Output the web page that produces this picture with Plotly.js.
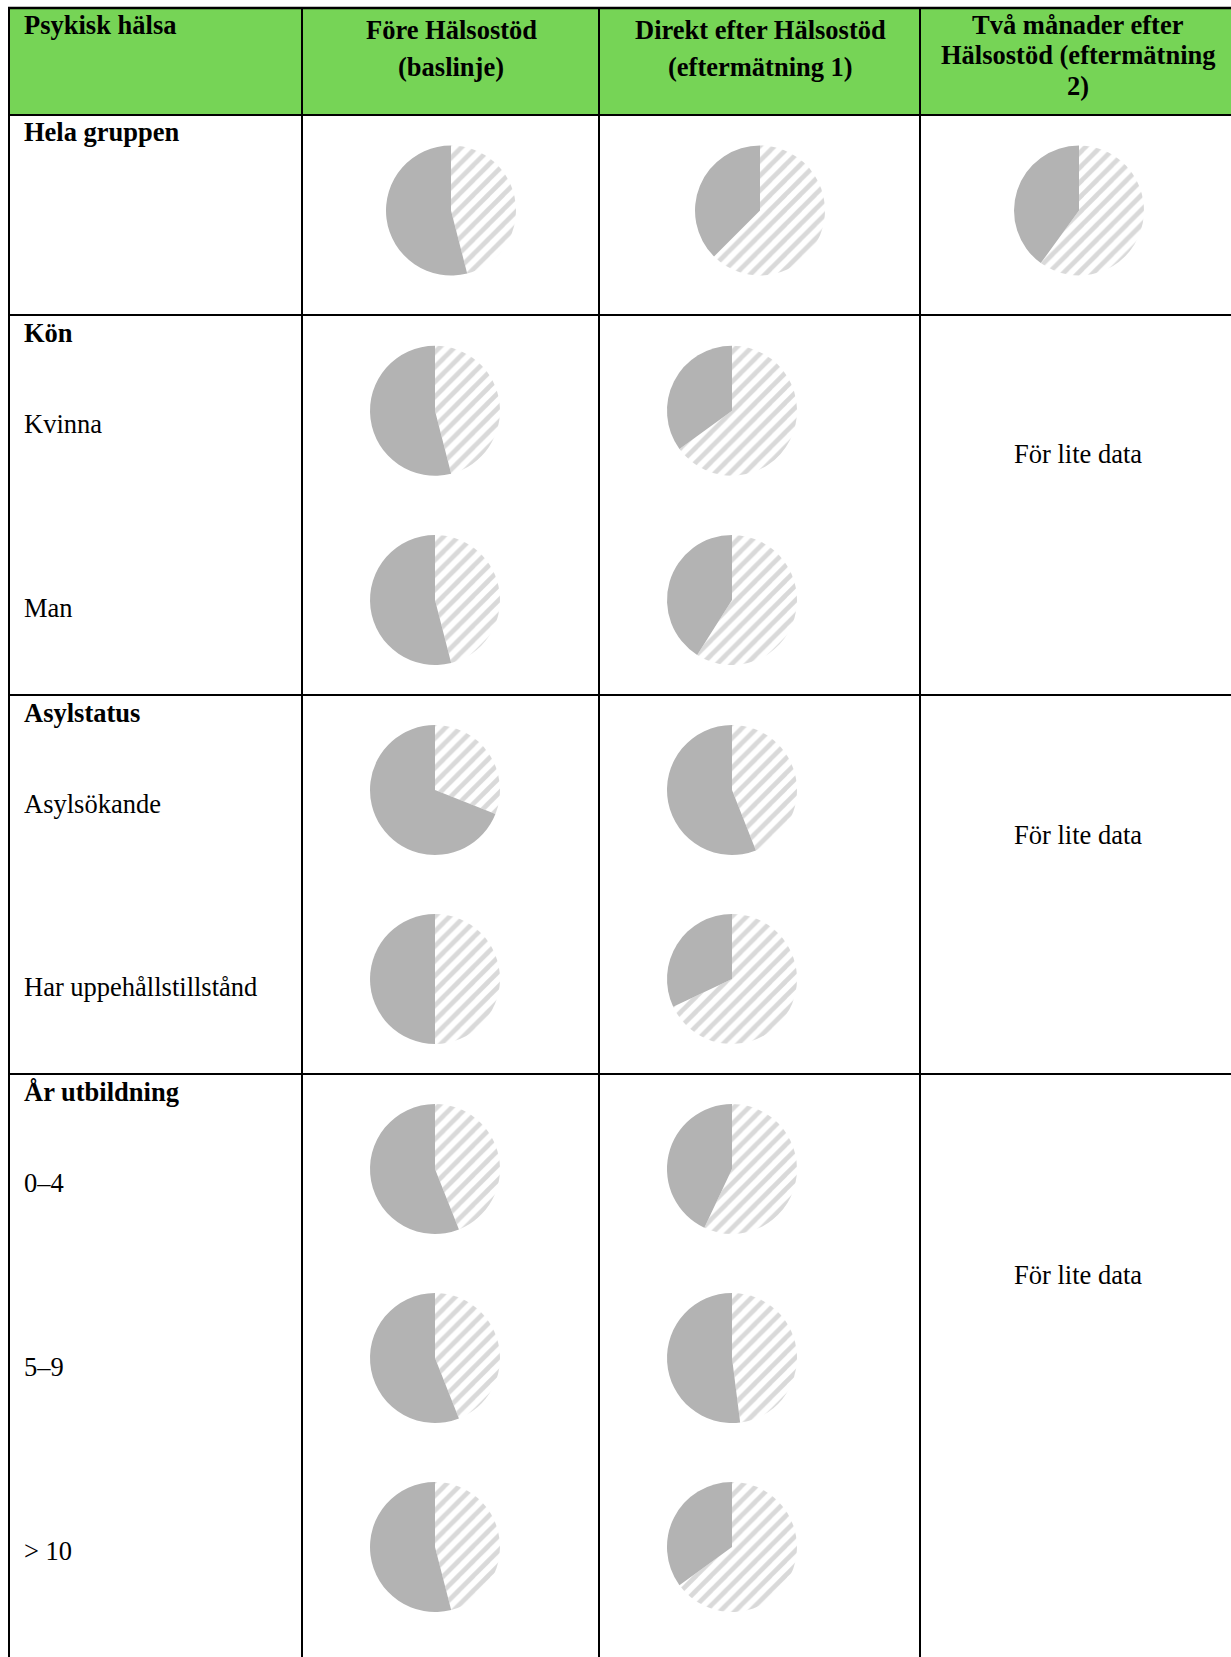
<!DOCTYPE html>
<html>
<head>
<meta charset="utf-8">
<script src="https://cdn.plot.ly/plotly-3.0.1.min.js"></script>
<style>
  html, body { margin: 0; padding: 0; background: #ffffff; }
  #chart { width: 1231px; height: 1657px; }
</style>
</head>
<body>
<div id="chart"></div>
<script>
// ---------- DATA ----------
const cornerHeader = 'Psykisk hälsa';
const header1Lines = ['Före Hälsostöd', '(baslinje)'];
const header2Lines = ['Direkt efter Hälsostöd', '(eftermätning 1)'];
const header3Lines = ['Två månader efter', 'Hälsostöd (eftermätning', '2)'];

const groupLabels = ['Hela gruppen', 'Kön', 'Asylstatus', 'År utbildning'];
const subLabels = ['Kvinna', 'Man', 'Asylsökande', 'Har uppehållstillstånd', '0–4', '5–9', '> 10'];

// pie categories (one pie per row, per measurement)
const pieRows = ['Hela gruppen', 'Kvinna', 'Man', 'Asylsökande', 'Har uppehållstillstånd', '0–4', '5–9', '> 10'];
const sliceLabels = ['Randig andel', 'Grå andel'];

// percentages (striped slice, grey slice)
const baselineStriped = [46, 46, 46, 31, 50, 44, 44, 46];
const baselineSolid   = [54, 54, 54, 69, 50, 56, 56, 54];
const efter1Striped   = [62.5, 65, 59, 44, 68, 57, 48, 65];
const efter1Solid     = [37.5, 35, 41, 56, 32, 43, 52, 35];
const efter2Striped   = [60];
const efter2Solid     = [40];

const noDataText = 'För lite data';

// ---------- LAYOUT GEOMETRY ----------
const W = 1231, H = 1657;
const FONT = 'Liberation Serif, Times New Roman, serif';
const FS = 26.5;
const GREEN = '#76d456';
const R = 65;

const tableLeft = 9, tableTop = 8, tableRight = 1245;
const colBounds = [302, 599, 920];
const rowBounds = [115, 315, 695, 1074];

// pie centre positions (pixels) for the rows of pieRows
const pieY = [210.5, 410.7, 600, 790, 979, 1169, 1358, 1547];
const pieXFirstRow = [451, 760, 1079];
const pieXOther = [435, 732];

function domainFor(cx, cy) {
  return {
    x: [(cx - R) / W, (cx + R) / W],
    y: [1 - (cy + R) / H, 1 - (cy - R) / H]
  };
}

function pieTrace(striped, solid, cx, cy) {
  return {
    type: 'pie',
    labels: sliceLabels,
    values: [striped, solid],
    sort: false,
    direction: 'clockwise',
    rotation: 0,
    textinfo: 'none',
    hoverinfo: 'skip',
    showlegend: false,
    domain: domainFor(cx, cy),
    marker: {
      colors: ['#ffffff', '#b3b3b3'],
      line: { width: 0 },
      pattern: {
        shape: ['/', ''],
        fgcolor: '#d9d9d9',
        size: 10.5,
        solidity: 0.45
      }
    }
  };
}

const traces = [];
pieRows.forEach((name, i) => {
  const cx1 = i === 0 ? pieXFirstRow[0] : pieXOther[0];
  const cx2 = i === 0 ? pieXFirstRow[1] : pieXOther[1];
  traces.push(pieTrace(baselineStriped[i], baselineSolid[i], cx1, pieY[i]));
  traces.push(pieTrace(efter1Striped[i], efter1Solid[i], cx2, pieY[i]));
});
efter2Striped.forEach((v, i) => {
  traces.push(pieTrace(v, efter2Solid[i], pieXFirstRow[2], pieY[i]));
});

// ---------- SHAPES ----------
const shapes = [];
shapes.push({ type: 'rect', xref: 'x', yref: 'y', x0: tableLeft, x1: tableRight, y0: tableTop, y1: rowBounds[0],
  fillcolor: GREEN, line: { width: 0 }, layer: 'below' });
shapes.push({ type: 'line', xref: 'x', yref: 'y', x0: tableLeft - 1, x1: tableRight, y0: tableTop, y1: tableTop,
  line: { color: '#000', width: 2.5 } });
shapes.push({ type: 'line', xref: 'x', yref: 'y', x0: tableLeft, x1: tableLeft, y0: tableTop, y1: H + 5,
  line: { color: '#000', width: 2 } });
colBounds.forEach(x => shapes.push({ type: 'line', xref: 'x', yref: 'y', x0: x, x1: x, y0: tableTop, y1: H + 5,
  line: { color: '#000', width: 2 } }));
rowBounds.forEach(y => shapes.push({ type: 'line', xref: 'x', yref: 'y', x0: tableLeft, x1: tableRight, y0: y, y1: y,
  line: { color: '#000', width: 1.8 } }));

// ---------- ANNOTATIONS ----------
const annotations = [];
function txt(text, x, y, anchor, bold) {
  annotations.push({
    xref: 'x', yref: 'y', x: x, y: y, text: bold ? '<b>' + text + '</b>' : text,
    showarrow: false, xanchor: anchor, yanchor: 'middle',
    font: { family: FONT, size: FS, color: '#000000' }
  });
}
txt(cornerHeader, 22, 24.5, 'left', true);
header1Lines.forEach((t, i) => txt(t, 451, [30, 67][i], 'center', true));
header2Lines.forEach((t, i) => txt(t, 760, [30, 67][i], 'center', true));
header3Lines.forEach((t, i) => txt(t, 1078, [24.5, 55, 86][i], 'center', true));

const groupY = [132, 333, 713, 1092];
groupLabels.forEach((t, i) => txt(t, 22, groupY[i], 'left', true));
const subY = [424, 608, 804, 986.5, 1183, 1367, 1551];
subLabels.forEach((t, i) => txt(t, 22, subY[i], 'left', false));

[454, 835, 1275].forEach(y => txt(noDataText, 1078, y, 'center', false));

const layout = {
  width: W, height: H,
  margin: { l: 0, r: 0, t: 0, b: 0, pad: 0 },
  paper_bgcolor: '#ffffff', plot_bgcolor: 'rgba(0,0,0,0)',
  xaxis: { range: [0, W], visible: false, fixedrange: true, domain: [0, 1] },
  yaxis: { range: [H, 0], visible: false, fixedrange: true, domain: [0, 1] },
  shapes: shapes,
  annotations: annotations,
  showlegend: false
};

Plotly.newPlot('chart', traces, layout, { staticPlot: true, displayModeBar: false });
</script>
</body>
</html>
